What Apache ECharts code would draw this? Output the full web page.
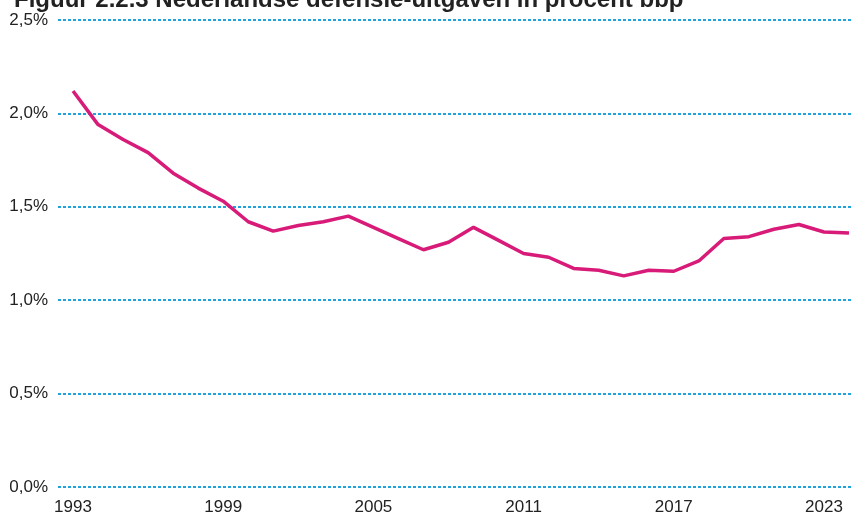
<!DOCTYPE html>
<html>
<head>
<meta charset="utf-8">
<script src="https://cdn.jsdelivr.net/npm/echarts@6/dist/echarts.min.js"></script>
<style>
html, body { margin: 0; padding: 0; background: #fff; }
#main { width: 853px; height: 516px; }
</style>
</head>
<body>
<div id="main"></div>
<script>
var myChart = echarts.init(document.getElementById('main'));

var years = [1993, 1994, 1995, 1996, 1997, 1998, 1999, 2000, 2001, 2002, 2003, 2004, 2005, 2006, 2007, 2008,
             2009, 2010, 2011, 2012, 2013, 2014, 2015, 2016, 2017, 2018, 2019, 2020, 2021, 2022, 2023, 2024];
var uitgaven = [2.12, 1.94, 1.86, 1.79, 1.68, 1.60, 1.53, 1.42, 1.37, 1.40, 1.42, 1.45, 1.39, 1.33, 1.27, 1.31,
                1.39, 1.32, 1.25, 1.23, 1.17, 1.16, 1.13, 1.16, 1.155, 1.21, 1.33, 1.34, 1.38, 1.405, 1.365, 1.36];
var yearLabels = [1993, 1999, 2005, 2011, 2017, 2023];

var labelFont = '"Liberation Sans Narrow", "Liberation Sans", sans-serif';

option = {
    animation: false,
    title: {
        text: 'Figuur 2.2.3 Nederlandse defensie-uitgaven in procent bbp',
        left: 9,
        top: -17,
        textStyle: {
            fontFamily: '"Liberation Sans", Arial, sans-serif',
            fontWeight: 'bold',
            fontSize: 24,
            color: '#222'
        }
    },
    grid: {
        left: 58,
        right: 0,
        top: 20,
        bottom: 29
    },
    xAxis: {
        type: 'value',
        min: 1992.4,
        max: 2024.16,
        axisLine: { show: false },
        axisTick: { show: false },
        splitLine: { show: false },
        axisLabel: {
            customValues: yearLabels,
            margin: 12,
            fontFamily: labelFont,
            fontSize: 17,
            color: '#222',
            formatter: function (v) { return String(v); }
        }
    },
    yAxis: {
        type: 'value',
        min: 0,
        max: 2.5,
        interval: 0.5,
        axisLine: { show: false },
        axisTick: { show: false },
        axisLabel: {
            margin: 10,
            fontFamily: labelFont,
            fontSize: 17,
            color: '#222',
            formatter: function (v) {
                return v.toFixed(1).replace('.', ',') + '%';
            }
        },
        splitLine: {
            lineStyle: {
                color: '#1fa3dc',
                width: 2,
                type: [3, 2]
            }
        }
    },
    series: [
        {
            name: 'Defensie-uitgaven',
            type: 'line',
            showSymbol: false,
            data: years.map(function (y, i) { return [y, uitgaven[i]]; }),
            lineStyle: { color: '#d81b78', width: 3.5 },
            itemStyle: { color: '#d81b78' }
        }
    ]
};
myChart.setOption(option);
</script>
</body>
</html>
